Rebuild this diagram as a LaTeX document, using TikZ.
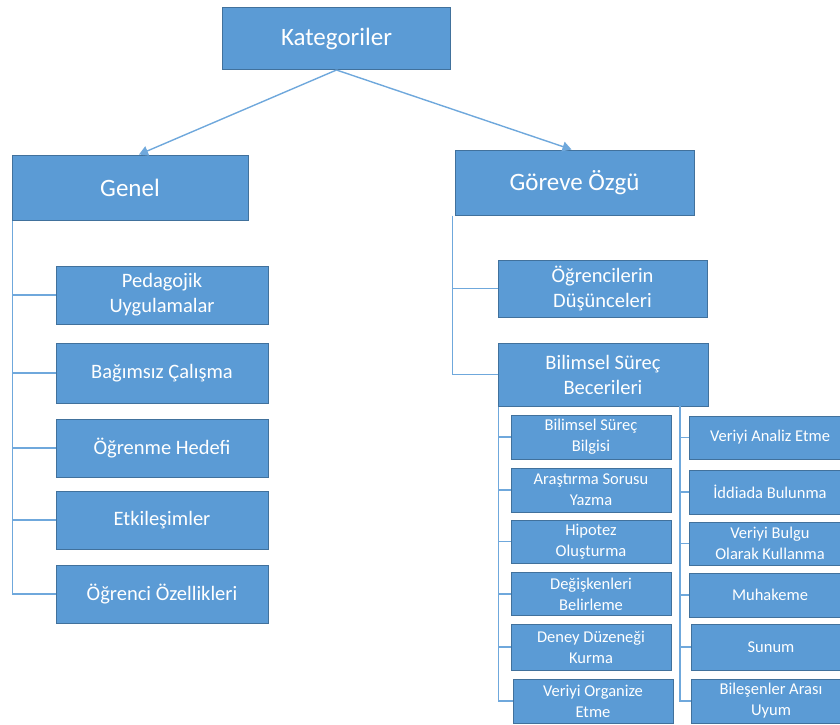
\documentclass[tikz,border=0pt]{standalone}
\usepackage{fontspec}
\setmainfont{Carlito}
\usetikzlibrary{arrows.meta}
\definecolor{boxfill}{HTML}{5B9BD5}
\definecolor{boxline}{HTML}{41719C}
\definecolor{connline}{HTML}{6FA8DC}
\tikzset{
  box/.style={draw=boxline, fill=boxfill, text=white, line width=1pt, inner sep=0pt, align=center},
  bigtxt/.style={font=\fontsize{25}{30}\selectfont},
  midtxt/.style={font=\fontsize{20.5}{25}\selectfont},
  smalltxt/.style={font=\fontsize{16.5}{21}\selectfont},
  conn/.style={draw=connline, line width=1.4pt},
  arr/.style={conn, -{Triangle[width=10pt,length=9pt]}}
}
\begin{document}
\begin{tikzpicture}[x=1pt,y=-1pt]
\useasboundingbox (0,0) rectangle (840,724);
% top level
\node[box, bigtxt, minimum width=228pt, minimum height=62pt] (kat) at (336.5,38.5) {Kategoriler};
\node[box, bigtxt, minimum width=236pt, minimum height=65pt] (genel) at (130,187.5) {Genel};
\node[box, bigtxt, minimum width=239pt, minimum height=65pt] (gorev) at (574.5,182.5) {Göreve Özgü};
\draw[arr] (kat.south) -- ([xshift=9pt]genel.north);
\draw[arr] (kat.south) -- ([xshift=-3pt]gorev.north);
% Genel children
\node[box, midtxt, minimum width=212pt, minimum height=58pt] (ped) at (162,295) {Pedagojik\\Uygulamalar};
\node[box, midtxt, minimum width=212pt, minimum height=60pt] (bag) at (162,373) {Bağımsız Çalışma};
\node[box, midtxt, minimum width=212pt, minimum height=58pt] (ogh) at (162,448) {Öğrenme Hedefi};
\node[box, midtxt, minimum width=212pt, minimum height=58pt] (etk) at (162,520) {Etkileşimler};
\node[box, midtxt, minimum width=212pt, minimum height=58pt] (ogo) at (162,594) {Öğrenci Özellikleri};
\draw[conn] ([xshift=1pt]genel.south west) -- ([xshift=1pt]genel.south west |- ogo.west) -- (ogo.west);
\foreach \n in {ped,bag,ogh,etk}
  \draw[conn] ([xshift=1pt]genel.south west |- \n.west) -- (\n.west);
% Gorev children
\node[box, midtxt, minimum width=209pt, minimum height=57pt] (ogd) at (602.5,288.5) {Öğrencilerin\\Düşünceleri};
\node[box, midtxt, minimum width=210pt, minimum height=63pt] (bsb) at (603,374.5) {Bilimsel Süreç\\Becerileri};
\draw[conn] ([xshift=-2pt]gorev.south west) -- ([xshift=-2pt]gorev.south west |- bsb.west) -- (bsb.west);
\draw[conn] ([xshift=-2pt]gorev.south west |- ogd.west) -- (ogd.west);
% left sub column
\node[box, smalltxt, minimum width=160pt, minimum height=44pt] (l1) at (591,437) {Bilimsel Süreç\\Bilgisi};
\node[box, smalltxt, minimum width=160pt, minimum height=44pt] (l2) at (591,490) {Araştırma Sorusu\\Yazma};
\node[box, smalltxt, minimum width=160pt, minimum height=43pt] (l3) at (591,541.5) {Hipotez\\Oluşturma};
\node[box, smalltxt, minimum width=160pt, minimum height=43pt] (l4) at (591,594) {Değişkenleri\\Belirleme};
\node[box, smalltxt, minimum width=160pt, minimum height=46pt] (l5) at (591,647) {Deney Düzeneği\\Kurma};
\node[box, smalltxt, minimum width=160pt, minimum height=44pt] (l6) at (593,701) {Veriyi Organize\\Etme};
\coordinate (lt) at ([xshift=1pt]bsb.south west);
\draw[conn] (lt) -- (lt |- l6.west) -- (l6.west);
\foreach \n in {l1,l2,l3,l4,l5}
  \draw[conn] (lt |- \n.west) -- (\n.west);
% right sub column
\node[box, smalltxt, minimum width=162pt, minimum height=43pt] (r1) at (770,437.5) {Veriyi Analiz Etme};
\node[box, smalltxt, minimum width=162pt, minimum height=44pt] (r2) at (770,492) {İddiada Bulunma};
\node[box, smalltxt, minimum width=162pt, minimum height=43pt] (r3) at (770,543.5) {Veriyi Bulgu\\Olarak Kullanma};
\node[box, smalltxt, minimum width=162pt, minimum height=44pt] (r4) at (770,595) {Muhakeme};
\node[box, smalltxt, minimum width=160pt, minimum height=46pt] (r5) at (771,647) {Sunum};
\node[box, smalltxt, minimum width=160pt, minimum height=44pt] (r6) at (771,701) {Bileşenler Arası\\Uyum};
\coordinate (rt) at (680,406);
\draw[conn] (rt) -- (rt |- r6.west) -- (r6.west);
\foreach \n in {r1,r2,r3,r4,r5}
  \draw[conn] (rt |- \n.west) -- (\n.west);
\end{tikzpicture}
\end{document}
